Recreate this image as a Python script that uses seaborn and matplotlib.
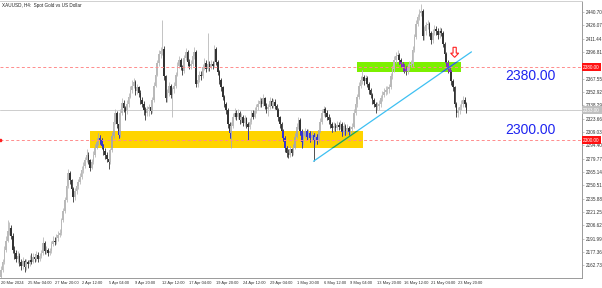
import numpy as np
import pandas as pd
import matplotlib
matplotlib.use("Agg")
import matplotlib.pyplot as plt
import matplotlib.transforms as mtransforms
from matplotlib.patches import Rectangle, FancyArrow
import seaborn as sns

# ---------------- data (H4 candles, XAUUSD) ----------------
first_open = 2150
closes = [
    2158, 2166, 2180, 2190, 2200, 2204, 2195, 2180, 2176, 2170,
    2173, 2166, 2162, 2168, 2161, 2166, 2164, 2169, 2167, 2172,
    2170, 2174, 2170, 2173, 2176, 2187, 2178, 2180, 2176,
    2178, 2186, 2190, 2188, 2193, 2196, 2198, 2212, 2222, 2234,
    2250, 2264, 2256, 2246, 2238, 2244, 2250, 2254, 2260, 2267,
    2272, 2278, 2284, 2278, 2270, 2276, 2284, 2292, 2298, 2303,
    2300, 2294, 2288, 2284, 2280, 2276, 2289, 2305, 2320, 2330,
    2318, 2306, 2330, 2341, 2335, 2332, 2340, 2348, 2355, 2360,
    2364, 2354, 2358, 2352, 2344, 2340, 2333, 2330, 2334,
    2336, 2332, 2344, 2360, 2372, 2385, 2395, 2398, 2400, 2370,
    2346, 2352, 2360, 2350, 2356, 2360, 2372, 2382, 2388, 2380,
    2376, 2390, 2397, 2386, 2382, 2384, 2392, 2397, 2362, 2366,
    2372, 2370, 2380, 2385, 2378, 2384, 2380, 2384, 2382, 2400,
    2386, 2375, 2366, 2358, 2348, 2340, 2333, 2318, 2308, 2316,
    2326, 2330, 2326, 2330, 2322, 2326, 2319, 2324, 2318, 2315,
    2320, 2330, 2326, 2332, 2336, 2340, 2343, 2340, 2346, 2338,
    2334, 2336, 2343, 2338, 2342, 2338, 2333, 2325, 2318,
    2310, 2303, 2292, 2286, 2284, 2290, 2286, 2292, 2304, 2315,
    2322, 2310, 2298, 2305, 2310, 2304, 2308, 2302, 2306, 2300,
    2304, 2300, 2311, 2320, 2330, 2334, 2330, 2326, 2322, 2318,
    2313, 2316, 2314, 2317, 2315, 2318, 2309, 2316, 2310, 2314,
    2309, 2312, 2315, 2330, 2340, 2347, 2360, 2366, 2369, 2365,
    2368, 2362, 2355, 2350, 2344, 2340, 2336, 2338, 2340,
    2346, 2350, 2353, 2355, 2356, 2358, 2370, 2378, 2388, 2392,
    2394, 2388, 2384, 2380, 2378, 2376, 2380, 2383, 2384, 2399,
    2413, 2428, 2435, 2440, 2442, 2414, 2420, 2426, 2428, 2418,
    2410, 2418, 2422, 2420, 2415, 2420, 2418, 2406, 2395, 2385,
    2378, 2375, 2365, 2358, 2340, 2330, 2333, 2336, 2340, 2344,
    2340, 2333,
]
highs = [
    2162, 2170, 2184, 2195, 2212, 2210, 2207, 2198, 2184, 2180,
    2178, 2176, 2170, 2172, 2170, 2170, 2169, 2174, 2176, 2176,
    2175, 2179, 2177, 2176, 2180, 2194, 2189, 2184, 2182,
    2182, 2189, 2195, 2194, 2197, 2200, 2203, 2215, 2226, 2238,
    2254, 2268, 2266, 2258, 2249, 2248, 2254, 2258, 2264, 2272,
    2276, 2282, 2290, 2287, 2280, 2280, 2288, 2296, 2302, 2308,
    2306, 2303, 2296, 2291, 2287, 2283, 2292, 2309, 2324, 2334,
    2332, 2320, 2334, 2346, 2344, 2338, 2344, 2352, 2360, 2366,
    2368, 2366, 2362, 2360, 2355, 2347, 2343, 2336, 2338,
    2340, 2339, 2348, 2364, 2376, 2388, 2399, 2402, 2432, 2403,
    2372, 2356, 2364, 2362, 2358, 2364, 2375, 2386, 2392, 2390,
    2383, 2394, 2401, 2399, 2389, 2388, 2396, 2402, 2399, 2370,
    2376, 2376, 2384, 2390, 2388, 2418, 2387, 2388, 2387, 2404,
    2402, 2388, 2377, 2368, 2360, 2350, 2342, 2335, 2320, 2320,
    2330, 2335, 2333, 2334, 2332, 2330, 2328, 2328, 2326, 2320,
    2324, 2333, 2333, 2336, 2340, 2344, 2347, 2346, 2351, 2348,
    2341, 2340, 2347, 2346, 2345, 2345, 2340, 2335, 2327,
    2320, 2312, 2305, 2294, 2290, 2294, 2292, 2296, 2308, 2319,
    2326, 2324, 2312, 2309, 2314, 2312, 2312, 2310, 2310, 2308,
    2308, 2307, 2315, 2324, 2334, 2338, 2337, 2333, 2329, 2325,
    2320, 2320, 2319, 2321, 2320, 2322, 2320, 2320, 2318, 2318,
    2316, 2316, 2319, 2334, 2344, 2351, 2364, 2370, 2377, 2372,
    2372, 2370, 2364, 2357, 2352, 2346, 2342, 2342, 2344,
    2350, 2354, 2357, 2359, 2360, 2362, 2374, 2382, 2392, 2397,
    2399, 2396, 2390, 2386, 2384, 2381, 2384, 2387, 2388, 2403,
    2417, 2432, 2439, 2444, 2450, 2444, 2425, 2430, 2432, 2430,
    2420, 2422, 2426, 2425, 2423, 2424, 2423, 2420, 2408, 2397,
    2388, 2381, 2377, 2367, 2360, 2342, 2337, 2340, 2344, 2349,
    2347, 2342,
]
lows = [
    2148, 2155, 2164, 2177, 2188, 2196, 2192, 2176, 2170, 2166,
    2165, 2162, 2158, 2159, 2155, 2158, 2160, 2162, 2164, 2165,
    2166, 2168, 2167, 2168, 2171, 2174, 2175, 2175, 2173,
    2174, 2176, 2184, 2185, 2186, 2190, 2194, 2196, 2210, 2220,
    2232, 2248, 2252, 2242, 2232, 2235, 2241, 2247, 2252, 2258,
    2264, 2270, 2276, 2274, 2266, 2268, 2274, 2282, 2290, 2295,
    2296, 2290, 2284, 2280, 2276, 2269, 2274, 2287, 2303, 2318,
    2314, 2302, 2304, 2328, 2331, 2322, 2329, 2337, 2346, 2352,
    2357, 2350, 2351, 2348, 2340, 2336, 2328, 2322, 2327,
    2327, 2329, 2330, 2342, 2358, 2370, 2382, 2390, 2394, 2366,
    2342, 2342, 2349, 2346, 2325, 2352, 2357, 2370, 2379, 2377,
    2372, 2374, 2388, 2382, 2378, 2378, 2381, 2389, 2358, 2358,
    2364, 2366, 2368, 2377, 2375, 2376, 2376, 2378, 2378, 2380,
    2383, 2372, 2362, 2354, 2344, 2336, 2329, 2314, 2302, 2292,
    2313, 2323, 2322, 2323, 2318, 2319, 2316, 2316, 2314, 2300,
    2312, 2318, 2323, 2324, 2330, 2333, 2337, 2336, 2338, 2334,
    2330, 2327, 2334, 2335, 2335, 2334, 2330, 2321, 2314,
    2306, 2299, 2287, 2282, 2281, 2282, 2283, 2284, 2290, 2302,
    2312, 2306, 2292, 2295, 2302, 2300, 2301, 2298, 2299, 2277,
    2296, 2296, 2298, 2309, 2318, 2327, 2326, 2322, 2318, 2314,
    2309, 2310, 2310, 2311, 2311, 2312, 2305, 2306, 2306, 2307,
    2305, 2306, 2309, 2313, 2328, 2337, 2345, 2357, 2362, 2361,
    2362, 2358, 2351, 2346, 2340, 2336, 2330, 2333, 2333,
    2337, 2343, 2347, 2350, 2351, 2352, 2356, 2367, 2375, 2385,
    2389, 2384, 2380, 2376, 2374, 2372, 2373, 2377, 2380, 2382,
    2397, 2411, 2425, 2432, 2436, 2410, 2410, 2416, 2422, 2414,
    2406, 2407, 2415, 2416, 2411, 2412, 2414, 2402, 2391, 2381,
    2374, 2370, 2361, 2354, 2336, 2325, 2326, 2329, 2333, 2337,
    2336, 2330,
]

x_tick_labels = [
    "20 Mar 2024", "25 Mar 04:00", "27 Mar 20:00", "2 Apr 12:00",
    "5 Apr 04:00", "9 Apr 20:00", "12 Apr 12:00", "17 Apr 04:00",
    "19 Apr 20:00", "24 Apr 12:00", "29 Apr 04:00", "1 May 20:00",
    "6 May 12:00", "9 May 04:00", "13 May 20:00", "16 May 12:00",
    "21 May 04:00", "23 May 20:00",
]
bars_per_label = 16
y_tick_values = [
    2440.70, 2426.07, 2411.44, 2396.81, 2367.55, 2352.92, 2338.29,
    2323.66, 2309.03, 2294.40, 2279.77, 2265.14, 2250.51, 2235.88,
    2221.25, 2206.62, 2191.99, 2177.36, 2162.73,
]
level_values = [2380.00, 2300.00]
level_texts = ["2380.00", "2300.00"]
level_text_prices = [2370.5, 2311.0]
level_text_bar = 300

yellow_zone = [53, 215.5, 2291.5, 2310.1]    # bar0, bar1, price0, price1
green_zone = [212, 273.8, 2374.9, 2385.8]
trend_bars = [186, 280]
trend_prices = [2277, 2397]
arrow_bar, arrow_top, arrow_len = 270, 2402, 11

title = "XAUUSD, H4:  Spot Gold vs US Dollar"

# ---------------- figure ----------------
sns.set_theme(style="white")
plt.rcParams["font.family"] = ["Liberation Sans", "DejaVu Sans"]

assert len(closes) == len(highs) == len(lows)
n = len(closes)
df = pd.DataFrame({"bar": np.arange(n), "close": closes, "high": highs, "low": lows})
df["open"] = [first_open] + closes[:-1]
df["up"] = df["close"] >= df["open"]
df["body_lo"] = df[["open", "close"]].min(axis=1)
df["body_h"] = (df["close"] - df["open"]).abs().clip(lower=1.0)

fig = plt.figure(figsize=(6.02, 2.88), dpi=100)
ax = fig.add_axes([0.0, 10 / 288, 582 / 602, 277 / 288])
ax.set_xlim(-0.6, 345.8)
ax.set_ylim(2148.9, 2452.8)

BULL, BEAR = "#b9b9b9", "#333333"
zone_cols = {
    "yellow": ("#ffd400", "#aaaaa0", "#3434d2", "#34a834"),
    "green": ("#7cf000", "#bcbcbc", "#8a2ed0", "#3a5ad8"),
}

# zones (background)
rects = {}
for name, z in (("yellow", yellow_zone), ("green", green_zone)):
    r = Rectangle((z[0], z[2]), z[1] - z[0], z[3] - z[2],
                  facecolor=zone_cols[name][0], edgecolor="none", zorder=1)
    ax.add_patch(r)
    rects[name] = r

# bid line
ax.axhline(closes[-1], color="#cdcdcd", lw=0.7, zorder=0.8)


def draw_candles(colors_up, colors_dn, zorder, clip=None):
    cols = np.where(df["up"], colors_up, colors_dn)
    wk = ax.vlines(df["bar"], df["low"], df["high"], colors=cols, lw=0.6, zorder=zorder)
    bars = ax.bar(df["bar"], df["body_h"], bottom=df["body_lo"], width=0.95,
                  color=cols, linewidth=0, zorder=zorder)
    if clip is not None:
        wk.set_clip_path(clip)
        for p in bars:
            p.set_clip_path(clip)


draw_candles(BULL, BEAR, 2)
for name in ("yellow", "green"):
    draw_candles(zone_cols[name][1], zone_cols[name][2], 2.2, clip=rects[name])

# level lines
for lv in level_values:
    ax.axhline(lv, color="#ff8c8c", lw=0.7, ls=(0, (3, 2.5)), zorder=2.5)
ax.plot([-0.45], [level_values[1]], marker="s", ms=1.6, color="#ff2020",
        clip_on=False, zorder=5)

# trendline
sns.lineplot(x=trend_bars, y=trend_prices, ax=ax, color="#3ec0f2", lw=0.9, zorder=3)
for name in ("yellow", "green"):
    ln, = ax.plot(trend_bars, trend_prices, color=zone_cols[name][3], lw=0.9, zorder=3.1)
    ln.set_clip_path(rects[name])

# sell arrow
ax.add_patch(FancyArrow(arrow_bar, arrow_top, 0, -arrow_len, width=1.9, head_width=4.8,
                        head_length=4.6, length_includes_head=True, facecolor="white",
                        edgecolor="#ff2020", lw=0.8, zorder=5))

# level texts
for txt, yp in zip(level_texts, level_text_prices):
    ax.text(level_text_bar, yp, txt, color="#1e24f0", fontsize=10, ha="left",
            va="center", zorder=6)

# title
ax.text(0.004, 0.993, title, transform=ax.transAxes, fontsize=3.3, color="#202020",
        ha="left", va="top", zorder=6)

# axes styling
ax.spines["left"].set_visible(False)
ax.spines["top"].set_color("#d0d0d0")
for s in ("right", "bottom"):
    ax.spines[s].set_color("#9a9a9a")
for s in ax.spines.values():
    s.set_linewidth(0.7)

ax.yaxis.tick_right()
ax.set_yticks(y_tick_values)
ax.set_yticklabels([f"{v:.2f}" for v in y_tick_values])
ax.tick_params(axis="y", length=1.5, width=0.4, pad=1.2, labelsize=3.3,
               colors="#9a9a9a", labelcolor="#303030")

xt = [bars_per_label * k for k in range(len(x_tick_labels))]
ax.set_xticks(xt)
ax.set_xticklabels(x_tick_labels)
for lab in ax.get_xticklabels():
    lab.set_ha("left")
ax.tick_params(axis="x", length=1.5, width=0.4, pad=1.0, labelsize=2.9,
               colors="#9a9a9a", labelcolor="#303030")
ax.set_xlabel("")
ax.set_ylabel("")

# price labels on the scale
btf = mtransforms.blended_transform_factory(ax.transAxes, ax.transData)
for lv in level_values:
    ax.text(1.002, lv, f"{lv:.2f}", transform=btf, fontsize=3.3, color="white",
            ha="left", va="center", clip_on=False, zorder=7,
            bbox=dict(boxstyle="square,pad=0.35", fc="#ff1010", ec="none"))
ax.text(1.002, closes[-1], f"{closes[-1]:.2f}", transform=btf, fontsize=3.3,
        color="white", ha="left", va="center", clip_on=False, zorder=7,
        bbox=dict(boxstyle="square,pad=0.35", fc="#c0c0c0", ec="none"))

fig.savefig("out.png", dpi=100, facecolor="white")
